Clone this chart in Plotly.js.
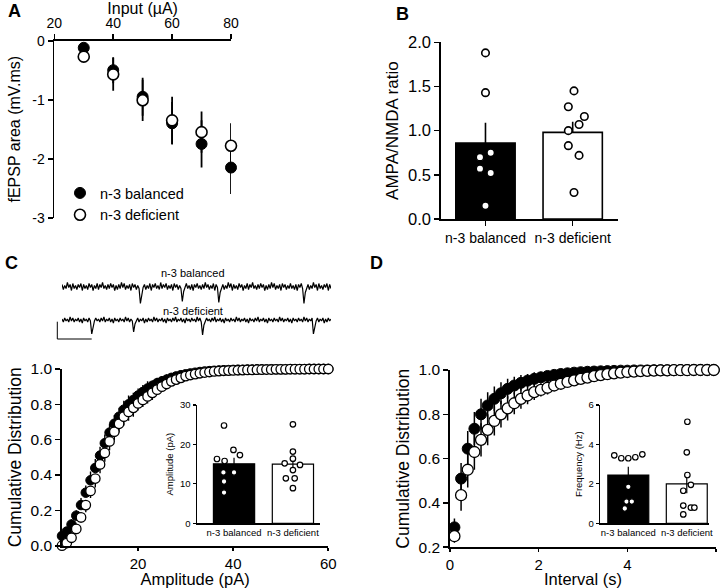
<!DOCTYPE html>
<html><head><meta charset="utf-8">
<script src="https://cdn.plot.ly/plotly-3.0.1.min.js"></script>
<style>html,body{margin:0;padding:0;background:#fff}#chart{width:720px;height:588px}</style>
</head><body><div id="chart"></div>
<script>
// ---------- DATA ----------
const groups = ['n-3 balanced', 'n-3 deficient'];

// Panel A: input-output
const inputUA = [30, 40, 50, 60, 70, 80];
const fepspBalanced = [-0.12, -0.50, -0.95, -1.40, -1.75, -2.15];
const fepspBalancedErr = [0.05, 0.22, 0.32, 0.36, 0.40, 0.45];
const fepspDeficient = [-0.27, -0.57, -1.01, -1.35, -1.55, -1.78];
const fepspDeficientErr = [0.05, 0.28, 0.35, 0.40, 0.35, 0.38];
const aTickVals = [0, -1, -2, -3];
const aTickText = ['0', '-1', '-2', '-3'];

// Panel B: AMPA/NMDA ratio
const ratioMean = [0.86, 0.98];
const ratioSem = [0.23, 0.12];
const ratioBalanced = [1.88, 1.43, 0.75, 0.70, 0.57, 0.52, 0.15];
const ratioDeficient = [1.45, 1.27, 1.16, 1.07, 1.00, 0.83, 0.72, 0.30];

// Panel C: example traces (pA, sampled)
const traceBalanced = [
  2,-3,1,-2,4,-1,2,-4,3,-2,1,-3,2,-1,3,-4,2,-2,1,-3,
  3,-1,2,-4,1,-2,3,-3,2,-1,4,-2,1,-3,2,-2,3,-1,2,-4,
  1,-3,2,-2,4,-1,3,-3,1,-2,2,-4,3,-1,2,-3,1,-2,
  -17,-6,-1,
  2,-3,1,-2,3,-4,2,-1,3,-2,1,-3,4,-2,2,-1,3,-3,1,-2,2,-4,3,-1,2,-3,1,-2,
  -15,-5,-1,
  3,-2,1,-3,2,-4,2,-1,3,-2,1,-3,2,-2,4,-1,2,-3,1,-2,3,-4,2,-1,
  -16,-6,-1,
  2,-3,1,-2,4,-1,3,-4,2,-2,1,-3,3,-1,2,-4,1,-2,3,-3,2,-1,4,-2,1,-3,2,-2,3,-1,
  2,-4,1,-3,2,-2,4,-1,3,-3,1,-2,2,-4,3,-1,2,-3,1,-2,3,-2,1,-3,2,-4,2,-1,3,-2,
  -17,-6,-1,
  2,-3,1,-2,4,-1,2,-4,3,-2,1,-3,2,-1,3,-4,2,-2];
const traceDeficient = [
  1,-2,2,-1,1,-2,3,-1,2,-2,1,-1,2,-2,1,-3,2,-1,1,-2,2,-1,
  -14,-5,-1,
  2,-1,1,-2,2,-1,3,-2,1,-1,2,-2,1,-3,2,-1,1,-2,2,-1,1,-2,3,-1,2,-2,1,-1,
  -12,-4,-1,
  2,-2,1,-1,2,-3,1,-2,2,-1,1,-2,3,-1,2,-2,1,-1,2,-2,1,-3,2,-1,1,-2,2,-1,3,-2,
  1,-1,2,-2,1,-3,2,-1,1,-2,2,-1,1,-2,3,-1,2,-2,
  -15,-5,-1,
  2,-1,1,-2,2,-1,3,-2,1,-1,2,-2,1,-3,2,-1,1,-2,2,-1,1,-2,3,-1,2,-2,1,-1,2,-2,
  1,-3,2,-1,1,-2,2,-1,3,-2,1,-1,2,-2,1,-3,2,-1,1,-2,2,-1,1,-2,3,-1,2,-2,1,-1,
  2,-2,1,-3,2,-1,1,-2,2,-1,1,-2,3,-1,2,-2,1,-1,2,
  -14,-5,-1,
  2,-2,1,-1,2,-3,1,-2,2,-1,1];

// Panel C: cumulative amplitude distribution
const ampBins = [4,5,6,7,8,9,10,11,12,13,14,15,16,17,18,19,20,21,22,23,24,25,26,27,28,29,30,31,32,33,34,35,36,37,38,39,40,
  41,42,43,44,45,46,47,48,49,50,51,52,53,54,55,56,57,58,59,60];
const ampCumBalanced = [0.055,0.08,0.12,0.17,0.23,0.30,0.37,0.44,0.51,0.58,0.64,0.69,0.73,0.77,0.80,0.825,0.85,0.87,0.89,0.905,
  0.92,0.93,0.94,0.95,0.958,0.965,0.97,0.975,0.979,0.983,0.986,0.988,0.99,0.992,0.993,0.994,0.995,0.996,0.996,0.997,0.997,
  0.998,0.998,0.998,0.999,0.999,0.999,0.999,0.999,0.999,0.999,0.999,1,1,1,1,1];
const ampCumBalancedErr = [0.02,0.02,0.03,0.03,0.04,0.04,0.05,0.05,0.05,0.05,0.05,0.05,0.05,0.05,0.05,0.04,0.04,0.04,0.04,0.03,
  0.03,0.03,0.03,0.02,0.02,0.02,0.02,0.02,0.01,0.01,0.01,0.01,0.01,0.01,0.01,0.01,0.01,0.01,0.01,0.01,0.01,
  0,0,0,0,0,0,0,0,0,0,0,0,0,0,0,0];
const ampCumDeficient = [0.0,0.015,0.045,0.095,0.16,0.23,0.31,0.38,0.46,0.525,0.59,0.645,0.69,0.73,0.757,0.78,0.805,0.825,0.845,0.865,
  0.883,0.90,0.915,0.93,0.94,0.95,0.96,0.966,0.971,0.976,0.98,0.983,0.986,0.988,0.99,0.991,0.992,0.993,0.994,0.995,0.995,
  0.996,0.996,0.997,0.997,0.998,0.998,0.998,0.999,0.999,0.999,0.999,1,1,1,1,1];
const ampCumDeficientErr = [0.01,0.02,0.02,0.03,0.03,0.04,0.04,0.05,0.05,0.05,0.05,0.05,0.05,0.05,0.05,0.05,0.04,0.04,0.04,0.04,
  0.03,0.03,0.03,0.02,0.02,0.02,0.02,0.01,0.01,0.01,0.01,0.01,0.01,0.01,0.01,0.01,0.01,0.01,0.01,0,0,
  0,0,0,0,0,0,0,0,0,0,0,0,0,0,0,0];

// Panel C inset: amplitude per cell
const ampMean = [15.1, 15.0];
const ampSem = [1.5, 1.2];
const ampBalanced = [24.8, 18.6, 17.3, 16.3, 15.8, 12.9, 12.9, 10.6, 7.8];
const ampDeficient = [25.1, 18.2, 16.4, 15.2, 14.8, 13.5, 11.4, 11.4, 8.9];

// Panel D: cumulative inter-event interval distribution
const intBins = [0.1,0.25,0.4,0.55,0.7,0.85,1.0,1.15,1.3,1.45,1.6,1.75,1.9,2.05,2.2,2.35,2.5,2.65,2.8,2.95,
  3.1,3.25,3.4,3.55,3.7,3.85,4.0,4.15,4.3,4.45,4.6,4.75,4.9,5.05,5.2,5.35,5.5,5.65,5.8,5.95];
const intCumBalanced = [0.29,0.51,0.645,0.735,0.80,0.84,0.87,0.895,0.915,0.93,0.942,0.952,0.96,0.967,0.973,0.978,0.982,0.985,0.988,0.99,
  0.992,0.993,0.994,0.995,0.996,0.997,0.997,0.998,0.998,0.998,0.999,0.999,0.999,0.999,1,1,1,1,1,1];
const intCumBalancedErr = [0.04,0.07,0.08,0.075,0.07,0.06,0.055,0.05,0.045,0.04,0.035,0.03,0.03,0.025,0.02,0.02,0.02,0.015,0.015,0.01,
  0.01,0.01,0.01,0.01,0.005,0.005,0.005,0.005,0,0,0,0,0,0,0,0,0,0,0,0];
const intCumDeficient = [0.25,0.435,0.55,0.63,0.685,0.73,0.77,0.80,0.827,0.85,0.87,0.885,0.90,0.91,0.92,0.93,0.938,0.946,0.953,0.96,
  0.966,0.972,0.977,0.981,0.985,0.988,0.991,0.993,0.995,0.996,0.997,0.998,0.998,0.999,0.999,0.999,1,1,1,1];
const intCumDeficientErr = [0.03,0.07,0.08,0.08,0.075,0.07,0.065,0.06,0.055,0.05,0.045,0.04,0.035,0.03,0.03,0.025,0.025,0.02,0.02,0.02,
  0.015,0.015,0.01,0.01,0.01,0.01,0.005,0.005,0.005,0,0,0,0,0,0,0,0,0,0,0];

// Panel D inset: frequency per cell
const freqMean = [2.45, 2.0];
const freqSem = [0.42, 0.47];
const freqBalanced = [3.45, 3.3, 3.3, 3.35, 3.5, 1.85, 1.1, 1.1, 0.75];
const freqDeficient = [5.15, 3.6, 2.45, 1.95, 1.65, 0.9, 0.8, 0.8, 0.45];

// ---------- STYLE (layout helpers, not data) ----------
const jitterB = [[0,0,0.06,-0.063,-0.063,0.06,0],[0.015,-0.05,0.134,0.073,-0.05,-0.05,0.073,0.015]];
const jitterC = [[-0.17,-0.01,0.10,-0.29,-0.16,-0.18,0.0,-0.17,-0.17],[0,0,0,-0.14,0.12,0,-0.12,0.03,0]];
const jitterD = [[-0.24,-0.12,0,0.12,0.24,0,-0.03,0.06,-0.06],[0.01,0,0.01,0.07,-0.06,-0.06,0.07,0.13,-0.06]];

const W = 720, H = 588;
const FONT = 'Liberation Sans, Arial, Helvetica, sans-serif';
const dx = (a, b) => [a / W, b / W];
const dy = (t, b) => [1 - b / H, 1 - t / H];

function ax(extra) {
  return Object.assign({
    showline: true, linecolor: '#000', linewidth: 1.8, ticks: 'outside', ticklen: 5, tickwidth: 1.6,
    tickcolor: '#000', showgrid: false, zeroline: false, fixedrange: true, automargin: false,
    tickfont: {family: FONT, size: 15.5, color: '#000'}
  }, extra);
}
function jit(vals, idx, j) { return vals.map((v, i) => idx + j[i]); }

const openMk = (s, lw) => ({symbol: 'circle', size: s, color: '#fff', line: {color: '#000', width: lw}});
const fillMk = (s) => ({symbol: 'circle', size: s, color: '#000', line: {color: '#000', width: 1}});

const traces = [];
// A
traces.push({type: 'scatter', mode: 'markers', name: 'n-3 balanced', x: inputUA, y: fepspBalanced, xaxis: 'x', yaxis: 'y',
  marker: fillMk(11), error_y: {type: 'data', array: fepspBalancedErr, color: '#000', thickness: 1.8, width: 0}, cliponaxis: false});
traces.push({type: 'scatter', mode: 'markers', name: 'n-3 deficient', x: inputUA, y: fepspDeficient, xaxis: 'x', yaxis: 'y',
  marker: openMk(11, 1.6), error_y: {type: 'data', array: fepspDeficientErr, color: '#000', thickness: 1.8, width: 0}, cliponaxis: false});

// B
traces.push({type: 'bar', x: [0, 1], y: ratioMean, width: 0.68, xaxis: 'x2', yaxis: 'y2', showlegend: false,
  marker: {color: ['#000', '#fff'], line: {color: '#000', width: 1.6}},
  error_y: {type: 'data', symmetric: false, array: ratioSem, arrayminus: [0, 0], color: '#000', thickness: 1.6, width: 0}});
[ratioBalanced, ratioDeficient].forEach((arr, g) => traces.push({type: 'scatter', mode: 'markers', x: jit(arr, g, jitterB[g]), y: arr,
  xaxis: 'x2', yaxis: 'y2', showlegend: false, marker: openMk(7.5, 1.6), cliponaxis: false}));

// C traces
traces.push({type: 'scatter', mode: 'lines', x: traceBalanced.map((v, i) => i), y: traceBalanced, xaxis: 'x7', yaxis: 'y7',
  showlegend: false, line: {color: '#000', width: 1.2}});
traces.push({type: 'scatter', mode: 'lines', x: traceDeficient.map((v, i) => i), y: traceDeficient, xaxis: 'x8', yaxis: 'y8',
  showlegend: false, line: {color: '#000', width: 1.2}});

// C main
traces.push({type: 'scatter', mode: 'markers', x: ampBins, y: ampCumBalanced, xaxis: 'x3', yaxis: 'y3', showlegend: false,
  marker: fillMk(9.5), cliponaxis: false,
  error_y: {type: 'data', symmetric: false, array: ampCumBalancedErr, arrayminus: ampCumBalancedErr.map(() => 0), color: '#000', thickness: 1.4, width: 0}});
traces.push({type: 'scatter', mode: 'markers', x: ampBins, y: ampCumDeficient, xaxis: 'x3', yaxis: 'y3', showlegend: false,
  marker: openMk(9.5, 1.3), cliponaxis: false,
  error_y: {type: 'data', symmetric: false, array: ampCumDeficientErr.map(() => 0), arrayminus: ampCumDeficientErr, color: '#000', thickness: 1.4, width: 0}});

// C inset
traces.push({type: 'bar', x: [0, 1], y: ampMean, width: 0.7, xaxis: 'x4', yaxis: 'y4', showlegend: false,
  marker: {color: ['#000', '#fff'], line: {color: '#000', width: 1.2}},
  error_y: {type: 'data', array: ampSem, color: '#000', thickness: 1.2, width: 0}});
[ampBalanced, ampDeficient].forEach((arr, g) => traces.push({type: 'scatter', mode: 'markers', x: jit(arr, g, jitterC[g]), y: arr,
  xaxis: 'x4', yaxis: 'y4', showlegend: false, marker: openMk(5.5, 1.2), cliponaxis: false}));

// D main
traces.push({type: 'scatter', mode: 'markers', x: intBins, y: intCumBalanced, xaxis: 'x5', yaxis: 'y5', showlegend: false,
  marker: fillMk(11), cliponaxis: false,
  error_y: {type: 'data', array: intCumBalancedErr, color: '#000', thickness: 1.5, width: 0}});
traces.push({type: 'scatter', mode: 'markers', x: intBins, y: intCumDeficient, xaxis: 'x5', yaxis: 'y5', showlegend: false,
  marker: openMk(11, 1.3), cliponaxis: false,
  error_y: {type: 'data', array: intCumDeficientErr, color: '#000', thickness: 1.5, width: 0}});

// D inset
traces.push({type: 'bar', x: [0, 1], y: freqMean, width: 0.7, xaxis: 'x6', yaxis: 'y6', showlegend: false,
  marker: {color: ['#000', '#fff'], line: {color: '#000', width: 1.2}},
  error_y: {type: 'data', array: freqSem, color: '#000', thickness: 1.2, width: 0}});
[freqBalanced, freqDeficient].forEach((arr, g) => traces.push({type: 'scatter', mode: 'markers', x: jit(arr, g, jitterD[g]), y: arr,
  xaxis: 'x6', yaxis: 'y6', showlegend: false, marker: openMk(5.5, 1.2), cliponaxis: false}));

const smallTick = {family: FONT, size: 9.5, color: '#000'};
const layout = {
  width: W, height: H, margin: {l: 0, r: 0, t: 0, b: 0}, paper_bgcolor: '#fff', plot_bgcolor: 'rgba(0,0,0,0)',
  font: {family: FONT, color: '#000'},
  showlegend: true,
  legend: {x: 60 / W, y: 1 - 177 / H, xanchor: 'left', yanchor: 'top', bgcolor: 'rgba(0,0,0,0)',
    font: {family: FONT, size: 14.5, color: '#000'}, tracegroupgap: 0, itemclick: false},
  // A
  xaxis: ax({domain: dx(54.3, 231), range: [20, 80], side: 'top', anchor: 'y', tickvals: [20, 40, 60, 80],
    tickfont: {family: FONT, size: 14}, title: {text: 'Input (µA)', font: {family: FONT, size: 16}, standoff: 2}}),
  yaxis: ax({domain: dy(40.7, 217.7), range: [-3, 0], anchor: 'x', tickvals: aTickVals, ticktext: aTickText,
    tickfont: {family: FONT, size: 14}, title: {text: 'fEPSP area (mV.ms)', font: {family: FONT, size: 16}, standoff: 8}}),
  // B
  xaxis2: ax({domain: dx(441, 618.3), range: [-0.51, 1.523], anchor: 'y2', tickvals: [0, 1], ticktext: groups,
    tickfont: {family: FONT, size: 14}}),
  yaxis2: ax({domain: dy(42.3, 219), range: [0, 2], anchor: 'x2', dtick: 0.5, tickformat: '.1f',
    tickfont: {family: FONT, size: 16.5}, title: {text: 'AMPA/NMDA ratio', font: {family: FONT, size: 17}, standoff: 5}}),
  // C main
  xaxis3: ax({domain: dx(62, 328.3), range: [4, 60], anchor: 'y3', tickvals: [20, 40, 60], ticklen: 3,
    tickfont: {family: FONT, size: 15, color: '#000'},
    title: {text: 'Amplitude (pA)', font: {family: FONT, size: 16.5}, standoff: 5}}),
  yaxis3: ax({domain: dy(369, 545.7), range: [0, 1], anchor: 'x3', dtick: 0.2, tickformat: '.1f',
    title: {text: 'Cumulative Distribution', font: {family: FONT, size: 17.5}, standoff: 4}}),
  // C inset
  xaxis4: ax({domain: dx(196.7, 320), range: [-0.634, 1.46], anchor: 'y4', tickvals: [0, 1], ticktext: groups,
    ticks: '', linewidth: 1.2, tickfont: smallTick}),
  yaxis4: ax({domain: dy(405, 523.3), range: [0, 30], anchor: 'x4', dtick: 10, linewidth: 1.2, ticklen: 3, tickwidth: 1.2,
    tickfont: smallTick, title: {text: 'Amplitude (pA)', font: {family: FONT, size: 9.5}, standoff: 4}}),
  // D main
  xaxis5: ax({domain: dx(450, 716), range: [0, 6], anchor: 'y5', dtick: 2, ticklen: 3,
    tickfont: {family: FONT, size: 15, color: '#000'},
    title: {text: 'Interval (s)', font: {family: FONT, size: 16.5}, standoff: 5}}),
  yaxis5: ax({domain: dy(370, 547.3), range: [0.2, 1.0], anchor: 'x5', dtick: 0.2, tickformat: '.1f',
    title: {text: 'Cumulative Distribution', font: {family: FONT, size: 17.5}, standoff: 4}}),
  // D inset
  xaxis6: ax({domain: dx(600, 709), range: [-0.484, 1.38], anchor: 'y6', tickvals: [0, 1], ticktext: groups,
    ticks: '', linewidth: 1.2, tickfont: smallTick}),
  yaxis6: ax({domain: dy(405, 523.3), range: [0, 6], anchor: 'x6', dtick: 2, linewidth: 1.2, ticklen: 3, tickwidth: 1.2,
    tickfont: smallTick, title: {text: 'Frequency (Hz)', font: {family: FONT, size: 9.5}, standoff: 4}}),
  // traces
  xaxis7: {domain: dx(62, 331), range: [0, traceBalanced.length - 1], anchor: 'y7', visible: false, fixedrange: true},
  yaxis7: {domain: dy(280.5, 304.5), range: [-18, 6], anchor: 'x7', visible: false, fixedrange: true},
  xaxis8: {domain: dx(62, 331), range: [0, traceDeficient.length - 1], anchor: 'y8', visible: false, fixedrange: true},
  yaxis8: {domain: dy(314, 338), range: [-18, 6], anchor: 'x8', visible: false, fixedrange: true},
  shapes: [
    {type: 'line', xref: 'paper', yref: 'paper', x0: 57.3 / W, x1: 57.3 / W, y0: 1 - 321.7 / H, y1: 1 - 339 / H, line: {color: '#000', width: 1}},
    {type: 'line', xref: 'paper', yref: 'paper', x0: 57.3 / W, x1: 91.7 / W, y0: 1 - 339 / H, y1: 1 - 339 / H, line: {color: '#000', width: 1}}
  ],
  annotations: [
    {text: '<b>A</b>', x: 6 / W, y: 1 - 11 / H, xref: 'paper', yref: 'paper', xanchor: 'left', yanchor: 'middle', showarrow: false, font: {family: FONT, size: 18}},
    {text: '<b>B</b>', x: 394 / W, y: 1 - 14 / H, xref: 'paper', yref: 'paper', xanchor: 'left', yanchor: 'middle', showarrow: false, font: {family: FONT, size: 18}},
    {text: '<b>C</b>', x: 3 / W, y: 1 - 263 / H, xref: 'paper', yref: 'paper', xanchor: 'left', yanchor: 'middle', showarrow: false, font: {family: FONT, size: 18}},
    {text: '<b>D</b>', x: 368 / W, y: 1 - 263 / H, xref: 'paper', yref: 'paper', xanchor: 'left', yanchor: 'middle', showarrow: false, font: {family: FONT, size: 18}},
    {text: groups[0], x: 193 / W, y: 1 - 273 / H, xref: 'paper', yref: 'paper', xanchor: 'center', yanchor: 'middle', showarrow: false, font: {family: FONT, size: 11}},
    {text: groups[1], x: 193 / W, y: 1 - 311 / H, xref: 'paper', yref: 'paper', xanchor: 'center', yanchor: 'middle', showarrow: false, font: {family: FONT, size: 11}}
  ]
};

Plotly.newPlot('chart', traces, layout, {staticPlot: true, displayModeBar: false});
</script></body></html>
